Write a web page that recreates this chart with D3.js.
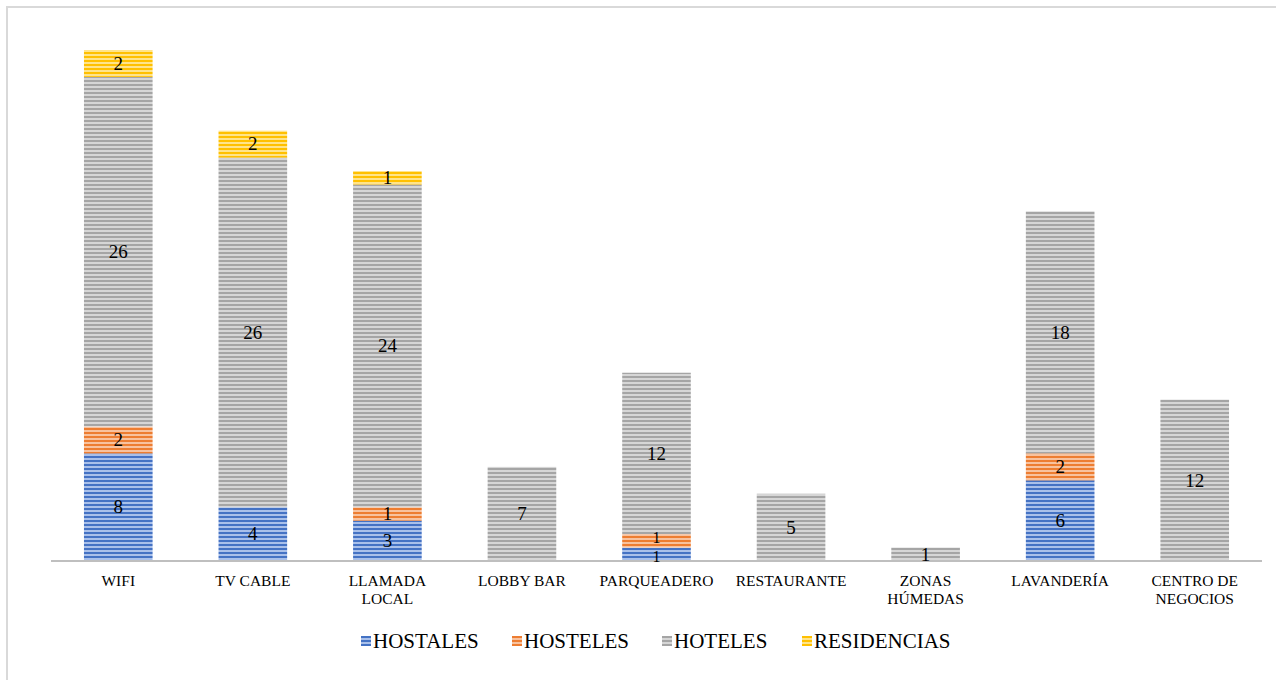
<!DOCTYPE html>
<html><head><meta charset="utf-8">
<script src="https://cdn.jsdelivr.net/npm/d3@7"></script>
<style>body{margin:0;background:#fff}svg{display:block}text{font-family:"Liberation Serif","Times New Roman",Times,"DejaVu Serif",serif}</style>
</head><body>
<script>
const categories = [["WIFI"],["TV CABLE"],["LLAMADA","LOCAL"],["LOBBY BAR"],["PARQUEADERO"],["RESTAURANTE"],["ZONAS","HÚMEDAS"],["LAVANDERÍA"],["CENTRO DE","NEGOCIOS"]];
const seriesNames = ["HOSTALES","HOSTELES","HOTELES","RESIDENCIAS"];
const hostales    = [8,4,3,0,1,0,0,6,0];
const hosteles    = [2,0,1,0,1,0,0,2,0];
const hoteles     = [26,26,24,7,12,5,1,18,12];
const residencias = [2,2,1,0,0,0,0,0,0];
const colors = ["#4472C4","#ED7D31","#A5A5A5","#FFC000"];
const lights = ["#a9c0ea","#f8c29e","#d6d6d6","#ffe48a"];

const W=1276,H=680;
const svg=d3.select("body").append("svg").attr("width",W).attr("height",H);
const defs=svg.append("defs");
colors.forEach((c,i)=>{
  const p=defs.append("pattern").attr("id","pat"+i).attr("patternUnits","userSpaceOnUse").attr("width",8).attr("height",4);
  p.append("rect").attr("width",8).attr("height",4).attr("fill",lights[i]);
  p.append("rect").attr("y",0).attr("width",8).attr("height",2).attr("fill",c);
});
svg.append("rect").attr("x",7).attr("y",7).attr("width",W+10).attr("height",H+10).attr("fill","#fff").attr("stroke","#d9d9d9").attr("stroke-width",2);

const data=categories.map((c,i)=>({i,HOSTALES:hostales[i],HOSTELES:hosteles[i],HOTELES:hoteles[i],RESIDENCIAS:residencias[i]}));
const stack=d3.stack().keys(seriesNames)(data);
const x=d3.scaleBand().domain(d3.range(categories.length)).range([51,1262]).paddingInner(0.49).paddingOuter(0.245);
const y=d3.scaleLinear().domain([0,38]).range([561,50]);

stack.forEach((s,si)=>{
  const g=svg.append("g");
  s.forEach((d,ci)=>{
    if(d[1]-d[0]<=0) return;
    g.append("rect").attr("x",x(ci)).attr("width",x.bandwidth()).attr("y",y(d[1])).attr("height",y(d[0])-y(d[1])).attr("fill",`url(#pat${si})`);
  });
});
svg.append("line").attr("x1",51).attr("x2",1262).attr("y1",561).attr("y2",561).attr("stroke","#bfbfbf").attr("stroke-width",2);
stack.forEach((s,si)=>{
  s.forEach((d,ci)=>{
    const v=d[1]-d[0]; if(v<=0) return;
    let cy=(y(d[0])+y(d[1]))/2, fs=19;
    const h=y(d[0])-y(d[1]);
    if(h<16 && si===0 && hosteles[ci]>0 && hosteles[ci]*13.5<16){cy+=2;fs=16;}
    if(h<16 && si===1 && hostales[ci]>0 && hostales[ci]*13.5<16){cy-=3;fs=16;}
    svg.append("text").attr("x",x(ci)+x.bandwidth()/2).attr("y",cy+fs*0.33)
      .attr("text-anchor","middle").attr("font-size",fs).attr("fill","#000").text(v);
  });
});
categories.forEach((c,ci)=>{
  const t=svg.append("text").attr("text-anchor","middle").attr("font-size",15.5).attr("fill","#000");
  c.forEach((line,li)=>t.append("tspan").attr("x",x(ci)+x.bandwidth()/2).attr("y",586+li*18).text(line));
});
const legX=[361,512,662,802];
seriesNames.forEach((n,i)=>{
  svg.append("rect").attr("x",legX[i]).attr("y",636).attr("width",10).attr("height",10).attr("fill",`url(#pat${i})`);
  svg.append("text").attr("x",legX[i]+12).attr("y",648).attr("font-size",21).attr("fill","#000").text(n);
});
</script>
</body></html>
